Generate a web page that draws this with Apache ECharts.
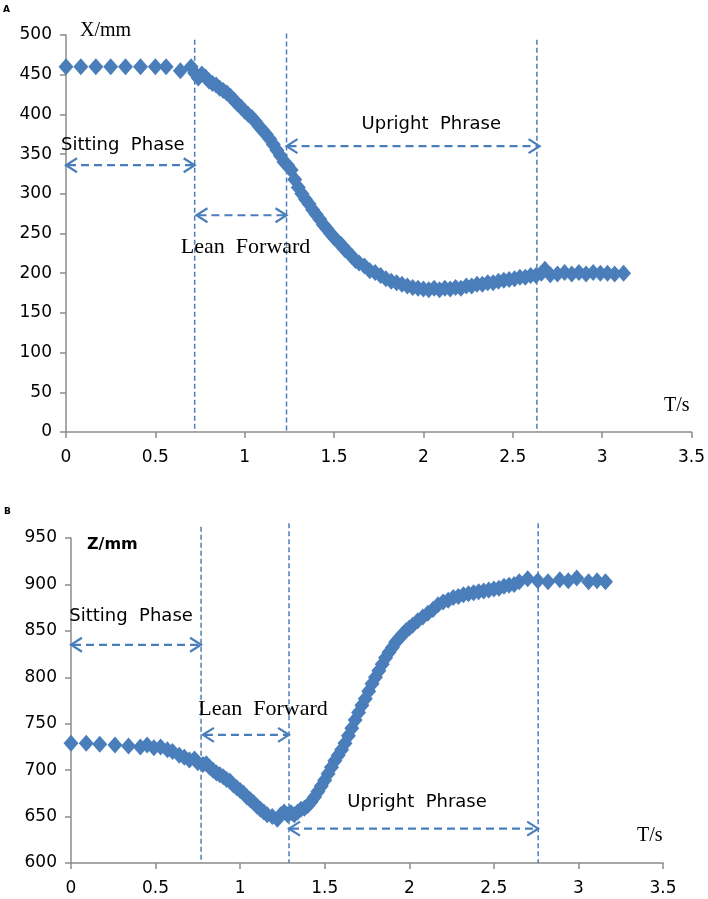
<!doctype html>
<html lang="en">
<head>
<meta charset="UTF-8">
<title>Sit to stand - X and Z trajectories</title>
<script src="https://cdn.jsdelivr.net/npm/echarts@6/dist/echarts.min.js"></script>
<style>
  html, body { margin: 0; padding: 0; background: #fff; }
  #main { width: 708px; height: 899px; }
</style>
</head>
<body>
<div id="main"></div>
<script>
// panel A : X (mm) against time (s)
var tA = [0, 0.083, 0.167, 0.25, 0.333, 0.417, 0.5, 0.56, 0.64, 0.7,
          0.72, 0.74, 0.76, 0.78, 0.80, 0.82, 0.84, 0.86, 0.88, 0.90,
          0.92, 0.94, 0.96, 0.98, 1.00, 1.02, 1.04, 1.06, 1.08, 1.10,
          1.12, 1.14, 1.16, 1.18, 1.20, 1.22, 1.24, 1.26, 1.28, 1.30,
          1.32, 1.34, 1.36, 1.38, 1.40, 1.42, 1.44, 1.46, 1.48, 1.50,
          1.52, 1.54, 1.56, 1.58, 1.60, 1.62, 1.64, 1.67, 1.70, 1.73,
          1.76, 1.79, 1.82, 1.85, 1.88, 1.91, 1.94, 1.97, 2.00, 2.03,
          2.06, 2.09, 2.12, 2.15, 2.18, 2.21, 2.24, 2.27, 2.30, 2.33,
          2.36, 2.39, 2.42, 2.45, 2.48, 2.51, 2.54, 2.57, 2.60, 2.63,
          2.66, 2.68, 2.71, 2.75, 2.79, 2.83, 2.87, 2.91, 2.95, 2.99,
          3.03, 3.07, 3.12];
var xA = [460, 460, 460, 460, 460, 460, 460, 460, 455, 460,
          452, 446, 451, 447, 442, 439, 437, 433, 430, 427,
          423, 418, 413, 409, 404, 400, 396, 391, 385, 380,
          375, 369, 362, 355, 348, 340, 336, 330, 318, 308,
          300, 293, 287, 280, 274, 268, 261, 256, 250, 245,
          240, 236, 230, 226, 221, 216, 213, 209, 203, 201,
          197, 193, 190, 188, 186, 184, 182, 181, 180, 179,
          181, 179, 181, 180, 182, 181, 184, 184, 186, 186,
          188, 188, 190, 191, 192, 193, 195, 195, 197, 197,
          200, 205, 198, 199, 201, 199, 201, 199, 201, 200,
          200, 199, 200];

// panel B : Z (mm) against time (s)
var tB = [0, 0.09, 0.17, 0.26, 0.34, 0.41, 0.45, 0.49, 0.53, 0.57,
          0.60, 0.64, 0.67, 0.70, 0.73, 0.75, 0.78, 0.80, 0.82, 0.84,
          0.86, 0.88, 0.90, 0.92, 0.94, 0.96, 0.98, 1.00, 1.02, 1.04,
          1.06, 1.08, 1.10, 1.12, 1.14, 1.16, 1.19, 1.22, 1.24, 1.26,
          1.28, 1.30, 1.32, 1.34, 1.36, 1.38, 1.40, 1.42, 1.44, 1.46,
          1.48, 1.50, 1.52, 1.54, 1.56, 1.58, 1.60, 1.62, 1.64, 1.66,
          1.68, 1.70, 1.72, 1.74, 1.76, 1.78, 1.80, 1.82, 1.84, 1.86,
          1.88, 1.90, 1.92, 1.94, 1.96, 1.98, 2.00, 2.02, 2.05, 2.08,
          2.11, 2.14, 2.17, 2.20, 2.23, 2.26, 2.29, 2.32, 2.35, 2.38,
          2.41, 2.44, 2.47, 2.50, 2.53, 2.56, 2.59, 2.62, 2.65, 2.70,
          2.76, 2.82, 2.89, 2.94, 2.99, 3.06, 3.11, 3.16];
var zB = [729, 729, 728, 727, 726, 725, 727, 724, 725, 722,
          720, 716, 714, 711, 712, 708, 706, 707, 703, 700,
          697, 695, 693, 690, 688, 684, 681, 678, 675, 671,
          668, 665, 661, 658, 655, 652, 650, 647, 652, 655,
          652, 654, 652, 655, 658, 659, 662, 666, 671, 677,
          683, 689, 696, 703, 710, 716, 722, 729, 737, 745,
          754, 762, 770, 777, 785, 793, 800, 807, 814, 821,
          827, 832, 838, 842, 846, 850, 853, 856, 861, 865,
          869, 873, 878, 881, 883, 886, 887, 889, 890, 891,
          892, 893, 894, 895, 896, 898, 899, 900, 903, 906,
          904, 903, 905, 904, 907, 903, 904, 903];

// phase boundaries: [t, top value, bottom value]
var bordersA = [[0.72, 494, 0], [1.234, 502, 0], [2.635, 494, 0]];
var bordersB = [[0.769, 962, 600], [1.289, 966, 600], [2.762, 966, 600]];
// double arrows: [t start, t end, value]
var arrowsA = [[0, 0.72, 336], [0.73, 1.234, 273], [1.234, 2.65, 360]];
var arrowsB = [[0, 0.769, 835], [0.78, 1.289, 738], [1.289, 2.762, 637]];
// phase names and where they sit: [t, value, name index]
var phaseNames = ['Sitting  Phase', 'Lean  Forward', 'Upright  Phrase'];
var labelsA = [[0.318, 361, 0], [1.005, 233, 1], [2.044, 388, 2]];
var labelsB = [[0.355, 866, 0], [1.135, 766, 1], [2.046, 665, 2]];

var blue = '#4a7ebb';
var tickFont = { fontFamily: 'DejaVu Sans', fontSize: 17, color: '#000' };

function zip(a, b) {
  var out = [];
  for (var i = 0; i < a.length; i++) out.push([a[i], b[i]]);
  return out;
}

function renderBorder(params, api) {
  var p1 = api.coord([api.value(0), api.value(1)]);
  var p2 = api.coord([api.value(0), api.value(2)]);
  return {
    type: 'line',
    shape: { x1: p1[0], y1: p1[1], x2: p2[0], y2: p2[1] },
    style: { stroke: blue, lineWidth: 1.5, lineDash: [5, 3] }
  };
}

function renderArrow(params, api) {
  var p1 = api.coord([api.value(0), api.value(2)]);
  var p2 = api.coord([api.value(1), api.value(2)]);
  var y = p1[1], hl = 11, hw = 7;
  var st = { stroke: blue, lineWidth: 2.2, fill: null };
  return {
    type: 'group',
    children: [
      { type: 'line', shape: { x1: p1[0] + 2, y1: y, x2: p2[0] - 2, y2: y },
        style: { stroke: blue, lineWidth: 2.2, lineDash: [8, 5] } },
      { type: 'polyline', shape: { points: [[p1[0] + hl, y - hw], [p1[0], y], [p1[0] + hl, y + hw]] }, style: st },
      { type: 'polyline', shape: { points: [[p2[0] - hl, y - hw], [p2[0], y], [p2[0] - hl, y + hw]] }, style: st }
    ]
  };
}

function renderLabel(params, api) {
  var p = api.coord([api.value(0), api.value(1)]);
  var idx = api.value(2);
  var serif = idx === 1;
  return {
    type: 'text',
    x: p[0], y: p[1],
    style: {
      text: phaseNames[idx],
      fontFamily: serif ? 'Liberation Serif' : 'DejaVu Sans',
      fontSize: serif ? 22 : 18,
      fill: '#000',
      align: 'center',
      verticalAlign: 'middle'
    }
  };
}

function xAxisFor(gi) {
  return {
    type: 'value', gridIndex: gi, min: 0, max: 3.5, interval: 0.5,
    axisLine: { show: true, lineStyle: { color: '#8c8c8c', width: 1.5 } },
    axisTick: { show: true, length: 6, lineStyle: { color: '#8c8c8c', width: 1.5 } },
    axisLabel: Object.assign({ margin: 17 }, tickFont),
    splitLine: { show: false }
  };
}

function yAxisFor(gi, lo, hi) {
  return {
    type: 'value', gridIndex: gi, min: lo, max: hi, interval: 50,
    axisLine: { show: true, lineStyle: { color: '#8c8c8c', width: 1.5 } },
    axisTick: { show: true, length: 6, lineStyle: { color: '#8c8c8c', width: 1.5 } },
    axisLabel: Object.assign({ margin: 14 }, tickFont),
    splitLine: { show: false }
  };
}

var chart = echarts.init(document.getElementById('main'), null, { renderer: 'canvas' });

var option = {
  animation: false,
  backgroundColor: '#fff',
  grid: [
    { left: 66, top: 35, width: 627, height: 397 },
    { left: 71, top: 538, width: 592, height: 325 }
  ],
  xAxis: [xAxisFor(0), xAxisFor(1)],
  yAxis: [yAxisFor(0, 0, 500), yAxisFor(1, 600, 950)],
  graphic: [
    { type: 'text', left: 3, top: 5, style: { text: 'A', font: 'bold 9px DejaVu Sans', fill: '#000' } },
    { type: 'text', left: 4, top: 507, style: { text: 'B', font: 'bold 9px DejaVu Sans', fill: '#000' } },
    { type: 'text', left: 80, top: 21, style: { text: 'X/mm', font: '20px Liberation Serif', fill: '#000' } },
    { type: 'text', left: 664, top: 396, style: { text: 'T/s', font: '20px Liberation Serif', fill: '#000' } },
    { type: 'text', left: 87, top: 537, style: { text: 'Z/mm', font: 'bold 16px DejaVu Sans', fill: '#000' } },
    { type: 'text', left: 637, top: 826, style: { text: 'T/s', font: '20px Liberation Serif', fill: '#000' } }
  ],
  series: [
    { type: 'custom', xAxisIndex: 0, yAxisIndex: 0, renderItem: renderBorder, data: bordersA, encode: { x: 0, y: [1, 2] }, silent: true, z: 1 },
    { type: 'custom', xAxisIndex: 1, yAxisIndex: 1, renderItem: renderBorder, data: bordersB, encode: { x: 0, y: [1, 2] }, silent: true, z: 1 },
    { type: 'scatter', xAxisIndex: 0, yAxisIndex: 0, symbol: 'diamond', symbolSize: [15, 17],
      itemStyle: { color: blue, opacity: 1 }, data: zip(tA, xA), z: 3 },
    { type: 'scatter', xAxisIndex: 1, yAxisIndex: 1, symbol: 'diamond', symbolSize: [15, 17],
      itemStyle: { color: blue, opacity: 1 }, data: zip(tB, zB), z: 3 },
    { type: 'custom', xAxisIndex: 0, yAxisIndex: 0, renderItem: renderArrow, data: arrowsA, encode: { x: [0, 1], y: 2 }, silent: true, z: 4 },
    { type: 'custom', xAxisIndex: 1, yAxisIndex: 1, renderItem: renderArrow, data: arrowsB, encode: { x: [0, 1], y: 2 }, silent: true, z: 4 },
    { type: 'custom', xAxisIndex: 0, yAxisIndex: 0, renderItem: renderLabel, data: labelsA, encode: { x: 0, y: 1 }, silent: true, z: 5 },
    { type: 'custom', xAxisIndex: 1, yAxisIndex: 1, renderItem: renderLabel, data: labelsB, encode: { x: 0, y: 1 }, silent: true, z: 5 }
  ]
};

chart.setOption(option);
</script>
</body>
</html>
